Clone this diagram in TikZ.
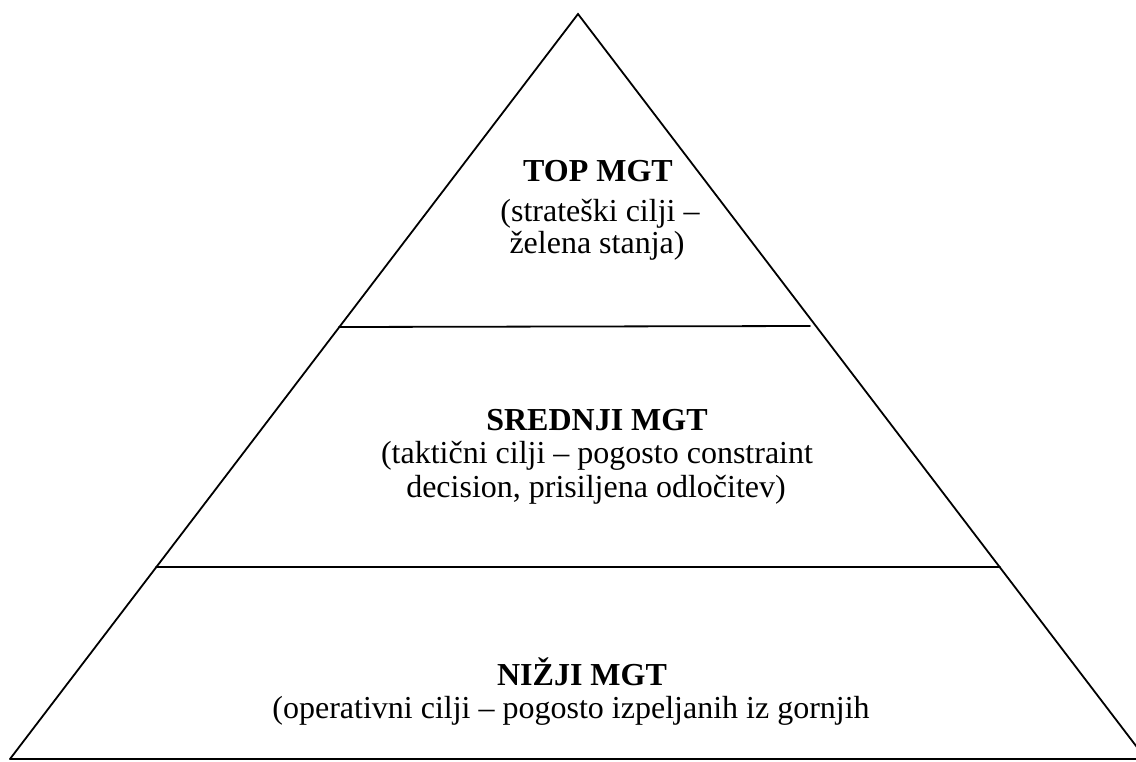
\documentclass[tikz,border=0pt]{standalone}
\usepackage{fontspec}
\setmainfont{Liberation Serif}
\begin{document}
\begin{tikzpicture}[x=1pt,y=-1pt,
  edge/.style={line width=1.8pt,line cap=round,line join=miter},
  head/.style={anchor=base,inner sep=0pt,font=\fontsize{32}{34}\selectfont\bfseries},
  note/.style={anchor=base,inner sep=0pt,font=\fontsize{32}{34}\selectfont}]
  \useasboundingbox (0,0) rectangle (1136,761);
  \clip (0,0) rectangle (1136,761);

  % pyramid corners
  \coordinate (apex) at (578,14);
  \coordinate (bl) at (10,759);
  \coordinate (br) at (1146,759);
  \coordinate (brEdge) at (1136,759);

  % level dividers
  \coordinate (d1l) at (339,327);
  \coordinate (d1r) at (810,326);
  \coordinate (d2l) at (156,567);
  \coordinate (d2r) at (1000,567);

  \draw[edge] (bl) -- (apex) -- (br);
  \draw[edge] (bl) -- (brEdge);
  \draw[edge] (d1l) -- (d1r);
  \draw[edge] (d2l) -- (d2r);

  % top level
  \node[head] (top1) at (598,181) {TOP MGT};
  \node[note] (top2) at (600,221) {(strateški cilji –};
  \node[note] (top3) at (597,253) {želena stanja)};

  % middle level
  \node[head] (mid1) at (597,430) {SREDNJI MGT};
  \node[note] (mid2) at (597,463) {(taktični cilji – pogosto constraint};
  \node[note] (mid3) at (596,497) {decision, prisiljena odločitev)};

  % lower level
  \node[head] (low1) at (582,685) {NIŽJI MGT};
  \node[note] (low2) at (571,718) {(operativni cilji – pogosto izpeljanih iz gornjih};
\end{tikzpicture}
\end{document}
